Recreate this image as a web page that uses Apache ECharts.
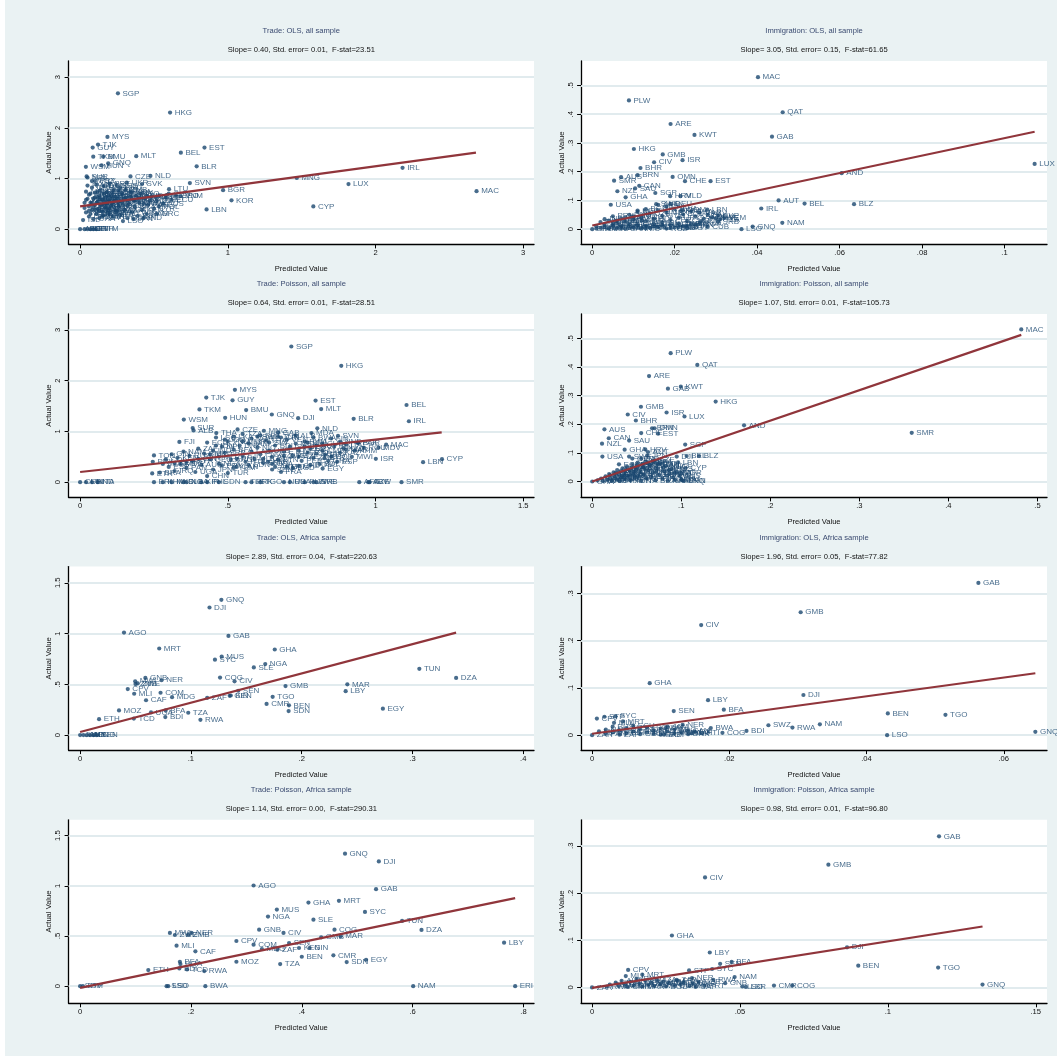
<!DOCTYPE html>
<html>
<head>
<meta charset="utf-8">
<script src="https://cdn.jsdelivr.net/npm/echarts@6/dist/echarts.min.js"></script>
<style>
  html, body { margin: 0; padding: 0; background: #fff; }
  #main { width: 1057px; height: 1056px; }
</style>
</head>
<body>
<div id="main"></div>
<script>
// labelled countries: [code, predicted, actual]
const tradeOlsAll = [
  ['SGP',0.256,2.68],['HKG',0.609,2.30],['MYS',0.185,1.82],['TJK',0.121,1.67],['GUY',0.085,1.61],
  ['BEL',0.682,1.51],['EST',0.842,1.61],['MLT',0.380,1.44],['TKM',0.089,1.43],['BMU',0.156,1.43],
  ['GNQ',0.190,1.30],['HUN',0.145,1.26],['BLR',0.789,1.24],['WSM',0.039,1.23],['IRL',2.183,1.21],
  ['CZE',0.341,1.04],['NLD',0.476,1.05],['SUR',0.044,1.04],['MNG',1.467,1.01],['SVN',0.743,0.91],
  ['LUX',1.817,0.89],['UKR',0.316,0.92],['SVK',0.419,0.89],['LTU',0.602,0.79],['BGR',0.968,0.77],
  ['MAC',2.684,0.75],['KOR',1.025,0.57],['CYP',1.579,0.45],['LBN',0.856,0.39],['POL',0.533,0.45],
  ['GRC',0.520,0.31],['MDA',0.450,0.66],['VNM',0.680,0.65]
];
// dense unreadable mass near the origin
const tradeOlsAllCloud = [
  [0.00,0.00],[0.03,0.00],[0.05,0.00],[0.07,0.00],[0.09,0.00],[0.11,0.00],
  [0.02,0.18],[0.03,0.52],[0.04,0.74],[0.04,0.33],[0.05,0.60],[0.05,0.86],[0.06,0.45],[0.06,0.25],[0.07,0.70],[0.07,0.52],
  [0.08,0.38],[0.08,0.82],[0.09,0.60],[0.09,0.20],[0.10,0.48],[0.10,0.72],[0.11,0.30],[0.11,0.88],[0.12,0.55],[0.12,0.40],
  [0.13,0.66],[0.13,0.22],[0.14,0.78],[0.14,0.47],[0.15,0.35],[0.15,0.58],[0.16,0.85],[0.16,0.27],[0.17,0.62],[0.17,0.44],
  [0.18,0.73],[0.19,0.32],[0.19,0.55],[0.20,0.90],[0.20,0.40],[0.21,0.65],[0.22,0.25],[0.22,0.50],[0.23,0.78],[0.24,0.36],
  [0.25,0.60],[0.26,0.45],[0.27,0.82],[0.27,0.28],[0.28,0.55],[0.29,0.68],[0.30,0.38],[0.31,0.62],[0.32,0.22],[0.33,0.50],
  [0.34,0.74],[0.35,0.33],[0.36,0.58],[0.37,0.45],[0.38,0.66],[0.39,0.26],[0.40,0.52],[0.41,0.70],[0.42,0.38],[0.44,0.60],
  [0.45,0.30],[0.46,0.48],[0.48,0.64],[0.50,0.40],[0.52,0.56],[0.54,0.66],[0.56,0.50],[0.58,0.62],[0.60,0.70],[0.62,0.58],
  [0.65,0.66],[0.43,0.22],[0.36,0.20],[0.29,0.16],[0.08,0.95],[0.05,1.02],[0.10,0.95],[0.25,0.86],
  [0.03,0.42],[0.04,0.58],[0.06,0.68],[0.07,0.30],[0.09,0.44],[0.10,0.62],[0.11,0.52],[0.12,0.74],[0.13,0.36],[0.14,0.60],
  [0.15,0.48],[0.16,0.70],[0.17,0.52],[0.18,0.40],[0.19,0.66],[0.20,0.58],[0.21,0.46],[0.22,0.72],[0.23,0.56],[0.24,0.64],
  [0.26,0.54],[0.28,0.70],[0.30,0.60],[0.32,0.46],[0.34,0.64],[0.37,0.56],[0.40,0.62],[0.43,0.50],[0.47,0.56],[0.35,0.72],
  [0.31,0.78],[0.26,0.76],[0.18,0.50],[0.12,0.62],[0.08,0.52],[0.06,0.36],[0.20,0.30],[0.25,0.36],[0.15,0.25],[0.10,0.38]
];
const tradeOlsAllFit = [[0,0.45],[2.68,1.51]];

const immigOlsAll = [
  ['MAC',0.0402,0.529],['PLW',0.0089,0.448],['QAT',0.0462,0.407],['ARE',0.0190,0.366],['KWT',0.0248,0.328],
  ['GAB',0.0436,0.322],['HKG',0.0101,0.279],['GMB',0.0171,0.260],['ISR',0.0219,0.240],['CIV',0.0150,0.233],
  ['BHR',0.0117,0.213],['AUS',0.0070,0.181],['BRN',0.0110,0.188],['OMN',0.0195,0.182],['SMR',0.0053,0.169],
  ['CHE',0.0225,0.167],['EST',0.0287,0.167],['CAN',0.0114,0.151],['SAU',0.0104,0.142],['NZL',0.0061,0.132],
  ['SGP',0.0153,0.126],['GHA',0.0081,0.111],['HRV',0.0189,0.115],['MLD',0.0214,0.115],['AND',0.0605,0.195],
  ['LUX',0.1073,0.227],['AUT',0.0452,0.100],['BEL',0.0515,0.089],['BLZ',0.0635,0.087],['USA',0.0045,0.085],
  ['IRL',0.0410,0.072],['SWE',0.0155,0.087],['DEU',0.0190,0.087],['FRA',0.0215,0.063],['NAM',0.0461,0.022],
  ['GNQ',0.0389,0.009],['LSO',0.0362,0.000],['SRB',0.0305,0.025],['JOR',0.0264,0.028],['FIN',0.0240,0.020],
  ['CYP',0.0305,0.048],['LBN',0.0279,0.068],['KGZ',0.0110,0.065]
];
const immigOlsAllCloud = [
  [0.000,0.000],[0.001,0.010],[0.002,0.025],[0.002,0.005],[0.003,0.035],[0.003,0.015],[0.004,0.002],[0.004,0.030],[0.005,0.012],[0.005,0.045],
  [0.006,0.022],[0.006,0.004],[0.007,0.038],[0.007,0.010],[0.008,0.028],[0.008,0.002],[0.009,0.050],[0.009,0.016],[0.010,0.006],[0.010,0.034],
  [0.011,0.020],[0.011,0.060],[0.012,0.003],[0.012,0.042],[0.013,0.012],[0.013,0.028],[0.014,0.055],[0.014,0.005],[0.015,0.036],[0.015,0.018],
  [0.016,0.066],[0.016,0.008],[0.017,0.046],[0.017,0.024],[0.018,0.002],[0.018,0.058],[0.019,0.014],[0.019,0.032],[0.020,0.070],[0.020,0.006],
  [0.021,0.040],[0.021,0.020],[0.022,0.010],[0.022,0.052],[0.023,0.028],[0.023,0.004],[0.024,0.062],[0.025,0.016],[0.025,0.045],[0.026,0.058],
  [0.027,0.036],[0.028,0.050],[0.029,0.042],[0.030,0.038],[0.031,0.034],[0.032,0.040],[0.016,0.085],[0.013,0.070],[0.018,0.078],[0.022,0.066],
  [0.001,0.002],[0.003,0.008],[0.005,0.020],[0.007,0.004],[0.009,0.008],[0.011,0.012],[0.013,0.004],[0.015,0.010],[0.017,0.014],[0.019,0.004],
  [0.021,0.008],[0.023,0.012],[0.026,0.020],[0.028,0.008],[0.012,0.030],[0.010,0.045],[0.008,0.040],[0.006,0.030]
];
const immigOlsAllFit = [[0,0.013],[0.1073,0.339]];

const tradePoisAll = [
  ['SGP',0.715,2.673],['HKG',0.884,2.293],['MYS',0.524,1.82],['TJK',0.427,1.667],['GUY',0.516,1.613],
  ['EST',0.797,1.607],['BEL',1.105,1.52],['TKM',0.404,1.433],['MLT',0.816,1.44],['BMU',0.562,1.42],
  ['GNQ',0.649,1.333],['DJI',0.738,1.26],['HUN',0.491,1.267],['WSM',0.351,1.233],['BLR',0.926,1.247],
  ['IRL',1.113,1.20],['SUR',0.381,1.067],['ALB',0.384,1.02],['CZE',0.533,1.04],['NLD',0.803,1.06],
  ['MNG',0.622,1.013],['MDA',0.783,0.967],['THA',0.461,0.967],['GAB',0.670,0.98],['SVN',0.873,0.913],
  ['FJI',0.336,0.793],['MAC',1.036,0.74],['MDV',1.010,0.68],['KWT',0.891,0.667],['BGR',0.941,0.767],
  ['LTU',0.770,0.78],['ISR',1.001,0.46],['CYP',1.225,0.453],['LBN',1.161,0.393],['SYR',0.827,0.473],
  ['EGY',0.821,0.267],['SMR',1.088,0],['TON',0.250,0.527],['PRY',0.246,0.40],['ETH',0.244,0.173],
  ['KEN',0.636,0.40],['SEN',0.650,0.25],['ERI',0.250,0],['SLB',0.350,0],['KIR',0.410,0],
  ['TLS',0.560,0],['PRK',0.580,0],['NRU',0.690,0],['PLW',0.760,0],['SRB',0.800,0],
  ['AFG',0.945,0],['ABW',0.975,0]
];
const tradePoisAllCloud = [
  [0,0],[0.02,0],[0.04,0],[0.06,0],[0.28,0],[0.31,0],[0.36,0],[0.43,0],[0.47,0],[0.61,0],[0.71,0],[0.79,0],[0.98,0],
  [0.27,0.19],[0.29,0.45],[0.30,0.30],[0.31,0.55],[0.32,0.22],[0.33,0.48],[0.34,0.36],
  [0.35,0.60],[0.36,0.28],[0.37,0.52],[0.38,0.42],[0.39,0.20],[0.40,0.66],[0.41,0.34],[0.42,0.56],[0.43,0.12],[0.43,0.78],
  [0.44,0.45],[0.45,0.62],[0.45,0.25],[0.46,0.88],[0.47,0.50],[0.48,0.70],[0.48,0.33],[0.49,0.58],[0.50,0.18],[0.50,0.80],
  [0.51,0.44],[0.52,0.64],[0.53,0.30],[0.54,0.72],[0.55,0.52],[0.56,0.40],[0.57,0.76],[0.58,0.60],[0.59,0.46],[0.60,0.68],
  [0.61,0.55],[0.62,0.38],[0.63,0.82],[0.64,0.62],[0.65,0.50],[0.66,0.72],[0.67,0.44],[0.68,0.88],[0.69,0.60],[0.70,0.30],
  [0.71,0.70],[0.72,0.52],[0.73,0.76],[0.74,0.62],[0.75,0.42],[0.76,0.80],[0.77,0.58],[0.78,0.66],[0.79,0.48],[0.80,0.72],
  [0.81,0.36],[0.82,0.62],[0.83,0.54],[0.84,0.42],[0.86,0.70],[0.88,0.58],[0.90,0.64],[0.92,0.50],[0.94,0.78],[0.96,0.68],
  [0.60,0.90],[0.55,0.95],[0.52,0.28],[0.66,0.30],[0.72,0.28],[0.74,0.32],[0.78,0.34],[0.68,0.20],
  [0.46,0.72],[0.49,0.84],[0.52,0.90],[0.55,0.80],[0.58,0.86],[0.61,0.92],[0.64,0.78],[0.67,0.90],[0.70,0.84],[0.73,0.92],
  [0.76,0.70],[0.79,0.88],[0.82,0.76],[0.85,0.86],[0.88,0.80],[0.90,0.74],[0.93,0.62],[0.44,0.55],[0.47,0.36],[0.53,0.46],
  [0.57,0.34],[0.62,0.46],[0.65,0.36],[0.69,0.52],[0.74,0.50],[0.80,0.56],[0.85,0.50],[0.87,0.40],[0.40,0.46],[0.36,0.40],
  [0.32,0.38],[0.28,0.36]
];
const tradePoisAllFit = [[0,0.20],[1.224,0.98]];

const immigPoisAll = [
  ['MAC',0.4818,0.531],['PLW',0.0881,0.448],['QAT',0.118,0.407],['ARE',0.0638,0.368],['KWT',0.0995,0.331],
  ['GAB',0.085,0.324],['HKG',0.1386,0.279],['GMB',0.0547,0.261],['ISR',0.0835,0.241],['CIV',0.0399,0.234],
  ['LUX',0.1036,0.227],['BHR',0.049,0.213],['AND',0.1705,0.196],['AUS',0.0137,0.182],['SMR',0.3588,0.170],
  ['BRN',0.0672,0.186],['OMN',0.070,0.186],['CHE',0.055,0.169],['EST',0.074,0.167],['CAN',0.0186,0.151],
  ['SAU',0.0414,0.143],['NZL',0.011,0.132],['SGP',0.1044,0.129],['GHA',0.0364,0.111],['HRV',0.0596,0.112],
  ['AUT',0.0626,0.103],['USA',0.0114,0.087],['SWE',0.0414,0.087],['DJI',0.0949,0.087],['BEL',0.106,0.089],
  ['BLZ',0.120,0.089],['LBN',0.0964,0.067],['CYP',0.105,0.047],['JOR',0.0998,0.030],['GNQ',0.101,0.004]
];
const immigPoisAllCloud = [
  [0.000,0.000],[0.006,0.004],[0.010,0.010],[0.012,0.002],[0.015,0.018],[0.017,0.006],[0.019,0.026],[0.020,0.012],[0.022,0.003],[0.024,0.032],
  [0.025,0.018],[0.027,0.008],[0.028,0.040],[0.030,0.024],[0.031,0.002],[0.033,0.014],[0.034,0.046],[0.036,0.030],[0.037,0.008],[0.039,0.052],
  [0.040,0.020],[0.042,0.038],[0.043,0.004],[0.045,0.060],[0.046,0.026],[0.048,0.012],[0.049,0.044],[0.051,0.066],[0.052,0.018],[0.054,0.034],
  [0.055,0.002],[0.057,0.050],[0.058,0.024],[0.060,0.070],[0.061,0.010],[0.063,0.040],[0.065,0.058],[0.066,0.016],[0.068,0.030],[0.070,0.074],
  [0.071,0.004],[0.073,0.046],[0.075,0.022],[0.077,0.062],[0.079,0.010],[0.081,0.036],[0.083,0.054],[0.085,0.002],[0.087,0.026],[0.089,0.044],
  [0.091,0.014],[0.093,0.006],[0.095,0.032],[0.098,0.020],[0.100,0.008],[0.103,0.002],[0.030,0.060],[0.045,0.080],[0.055,0.080],[0.062,0.090],
  [0.020,0.022],[0.026,0.028],[0.032,0.036],[0.038,0.042],[0.044,0.048],[0.050,0.056],[0.056,0.062],[0.062,0.064],[0.068,0.070],[0.074,0.060],
  [0.080,0.050],[0.086,0.040],[0.092,0.030],[0.035,0.020],[0.047,0.034],[0.059,0.044],[0.072,0.034],[0.084,0.020]
];
const immigPoisAllFit = [[0,0.0],[0.4818,0.512]];

const tradeOlsAfr = [
  ['GNQ',0.1275,1.333],['DJI',0.1168,1.257],['AGO',0.0396,1.01],['GAB',0.1339,0.977],['MRT',0.0714,0.853],
  ['GHA',0.1757,0.843],['MUS',0.1278,0.773],['SYC',0.1217,0.743],['NGA',0.1671,0.70],['SLE',0.1568,0.667],
  ['TUN',0.3062,0.653],['DZA',0.3394,0.563],['COG',0.1263,0.567],['CIV',0.1394,0.53],['GNB',0.0589,0.563],
  ['NER',0.0735,0.54],['MWI',0.0497,0.53],['ZMB',0.050,0.503],['ZWE',0.052,0.51],['GMB',0.1854,0.483],
  ['MAR',0.2412,0.50],['LBY',0.2397,0.433],['CPV',0.043,0.453],['MLI',0.0488,0.407],['COM',0.0726,0.417],
  ['MDG',0.083,0.373],['CAF',0.0595,0.343],['SEN',0.1427,0.437],['GIN',0.135,0.387],['KEN',0.136,0.39],
  ['ZAF',0.1147,0.367],['TGO',0.1738,0.377],['CMR',0.1683,0.307],['BEN',0.1885,0.293],['SDN',0.1882,0.237],
  ['EGY',0.2733,0.26],['MOZ',0.0351,0.243],['UGA',0.064,0.223],['BFA',0.0772,0.243],['TZA',0.0976,0.22],
  ['ETH',0.0171,0.157],['TCD',0.0485,0.163],['BDI',0.0769,0.177],['RWA',0.1086,0.15]
];
const tradeOlsAfrCloud = [[0,0],[0.003,0],[0.006,0],[0.009,0],[0.012,0],[0.015,0]];
const tradeOlsAfrFit = [[0,0.03],[0.3394,1.01]];

const immigOlsAfr = [
  ['GAB',0.0563,0.322],['GMB',0.0304,0.260],['CIV',0.0159,0.233],['GHA',0.0084,0.110],['DJI',0.0308,0.085],
  ['LBY',0.0169,0.074],['SEN',0.0119,0.051],['BFA',0.0192,0.054],['BEN',0.0431,0.046],['TGO',0.0515,0.043],
  ['SYC',0.0034,0.040],['STP',0.0018,0.039],['CPV',0.0007,0.035],['MRT',0.0045,0.029],['MLI',0.0032,0.026],
  ['SWZ',0.0257,0.021],['NAM',0.0332,0.023],['RWA',0.0292,0.016],['BWA',0.0173,0.015],['NER',0.0132,0.022],
  ['BDI',0.0225,0.009],['COG',0.0190,0.005],['GNQ',0.0646,0.007],['LSO',0.0430,0.000],['ZAF',0.0107,0.015],
  ['ZAR',0.0000,0.000],['EGY',0.0105,0.001],['CAF',0.0145,0.004]
];
const immigOlsAfrCloud = [
  [0.001,0.008],[0.002,0.012],[0.002,0.003],[0.003,0.018],[0.003,0.006],[0.004,0.010],[0.004,0.001],[0.005,0.015],[0.005,0.004],[0.006,0.008],
  [0.006,0.020],[0.007,0.002],[0.007,0.012],[0.008,0.006],[0.008,0.016],[0.009,0.003],[0.009,0.010],[0.010,0.014],[0.010,0.001],[0.011,0.008],
  [0.012,0.004],[0.012,0.012],[0.013,0.006],[0.014,0.010],[0.014,0.002],[0.015,0.007],[0.016,0.004],[0.011,0.018]
];
const immigOlsAfrFit = [[0,0.003],[0.0646,0.131]];

const tradePoisAfr = [
  ['GNQ',0.478,1.32],['DJI',0.539,1.243],['AGO',0.313,1.003],['GAB',0.534,0.967],['GHA',0.412,0.833],
  ['MRT',0.467,0.85],['MUS',0.355,0.763],['SYC',0.514,0.74],['NGA',0.339,0.693],['SLE',0.421,0.663],
  ['TUN',0.581,0.65],['DZA',0.616,0.56],['COG',0.459,0.563],['GNB',0.323,0.563],['CIV',0.367,0.53],
  ['MWI',0.162,0.53],['ZWE',0.171,0.51],['ZMB',0.195,0.51],['NER',0.201,0.53],['GMB',0.435,0.487],
  ['MAR',0.470,0.497],['CPV',0.282,0.45],['LBY',0.765,0.433],['COM',0.313,0.413],['MLI',0.174,0.403],
  ['SEN',0.377,0.43],['GIN',0.414,0.38],['KEN',0.395,0.38],['MDG',0.328,0.37],['ZAF',0.356,0.363],
  ['CAF',0.208,0.347],['BEN',0.400,0.293],['CMR',0.457,0.307],['SDN',0.481,0.24],['EGY',0.516,0.263],
  ['MOZ',0.282,0.243],['TZA',0.361,0.22],['BFA',0.180,0.243],['UGA',0.181,0.22],['ETH',0.123,0.16],
  ['TCD',0.193,0.167],['BDI',0.179,0.177],['RWA',0.224,0.15],['NAM',0.601,0],['ERI',0.785,0],
  ['BWA',0.226,0],['SSD',0.156,0],['LSO',0.159,0],['SOM',0.000,0],['STP',0.005,0]
];
const tradePoisAfrFit = [[0,-0.017],[0.785,0.877]];

const immigPoisAfr = [
  ['GAB',0.1173,0.320],['GMB',0.0799,0.260],['CIV',0.0382,0.233],['GHA',0.0270,0.110],['DJI',0.0862,0.085],
  ['LBY',0.0398,0.074],['BEN',0.0900,0.046],['TGO',0.1170,0.042],['SEN',0.0433,0.050],['BFA',0.0472,0.054],
  ['SYC',0.0406,0.039],['STP',0.0328,0.036],['CPV',0.0122,0.037],['MRT',0.0170,0.027],['MLI',0.0114,0.024],
  ['NAM',0.0482,0.022],['NER',0.0338,0.020],['ZAF',0.0286,0.016],['RWA',0.0410,0.016],['GNB',0.0450,0.009],
  ['LSO',0.0508,0.002],['LBR',0.0520,0.001],['CMR',0.0615,0.004],['COG',0.0677,0.004],['GNQ',0.1320,0.006],
  ['CAF',0.0350,0.001],['ZAR',0.0000,0.000]
];
const immigPoisAfrCloud = [
  [0.005,0.002],[0.006,0.006],[0.008,0.010],[0.009,0.003],[0.010,0.014],[0.011,0.006],[0.012,0.001],[0.013,0.012],[0.014,0.004],[0.015,0.018],
  [0.016,0.008],[0.017,0.002],[0.018,0.014],[0.019,0.006],[0.020,0.010],[0.021,0.003],[0.022,0.016],[0.023,0.007],[0.024,0.012],[0.025,0.002],
  [0.026,0.009],[0.028,0.004],[0.029,0.014],[0.030,0.006],[0.031,0.010],[0.033,0.003],[0.034,0.008],[0.036,0.012],[0.038,0.004]
];
const immigPoisAfrFit = [[0,-0.001],[0.132,0.129]];

// names for the points in the crowded masses (unreadable in the source)
const isoPool = ['AFG','ALB','ARG','ARM','AUS','AUT','AZE','BDI','BEN','BFA','BGD','BIH','BOL','BRA','BTN','BWA',
  'CAN','CHL','CHN','CMR','COL','CRI','CUB','DNK','DOM','ECU','EGY','ESP','ETH','FIN','FJI','FRA','GEO','GHA',
  'GIN','GTM','HND','HTI','IDN','IND','IRN','IRQ','ISL','ITA','JAM','JOR','JPN','KAZ','KEN','KGZ','KHM','LAO',
  'LKA','LSO','MAR','MDG','MEX','MKD','MLI','MMR','MOZ','MWI','NAM','NER','NGA','NIC','NOR','NPL','PAK','PAN',
  'PER','PHL','PNG','PRT','PRY','ROU','RUS','RWA','SDN','SEN','SLV','SRB','SWE','SYR','TCD','TGO','THA','TUN',
  'TUR','TZA','UGA','URY','USA','UZB','VEN','VNM','YEM','ZAF','ZMB','ZWE'];

// tick values per panel
const ticksTrade3 = [0, 1, 2, 3];
const ticksTradeP = [0, 0.5, 1, 1.5];
const ticksImmX1 = [0, 0.02, 0.04, 0.06, 0.08, 0.1];
const ticksImmY = [0, 0.1, 0.2, 0.3, 0.4, 0.5];
const ticksImmX2 = [0, 0.1, 0.2, 0.3, 0.4, 0.5];
const ticksAfrX1 = [0, 0.1, 0.2, 0.3, 0.4];
const ticksAfrX2 = [0, 0.02, 0.04, 0.06];
const ticksAfrX3 = [0, 0.2, 0.4, 0.6, 0.8];
const ticksAfrX4 = [0, 0.05, 0.1, 0.15];
const ticksAfrY = [0, 0.1, 0.2, 0.3];

const FONT = "'Liberation Sans', Arial, sans-serif";
const FS = 7.6;
const NAVY = '#1A476F';
const FITRED = '#90353B';
const BG = '#EAF2F3';

const colL = { left: 68.6, width: 465.4 };
const colR = { left: 581.1, width: 465.9 };
const rows = [
  { top: 60.9, t1: 27.0, t2: 46.3 },
  { top: 313.9, t1: 279.8, t2: 298.7 },
  { top: 566.6, t1: 534.1, t2: 552.7 },
  { top: 819.8, t1: 786.3, t2: 804.9 }
];
const PH = 183.5;

const panels = [
  { t: 'Trade: OLS, all sample', s: 'Slope= 0.40, Std. error= 0.01,  F-stat=23.51', col: colL, row: 0,
    pts: tradeOlsAll, cloud: tradeOlsAllCloud, fit: tradeOlsAllFit, xt: ticksTrade3, yt: ticksTrade3,
    xr: [-0.078, 3.073], yr: [-0.30, 3.32] },
  { t: 'Immigration: OLS, all sample', s: 'Slope= 3.05, Std. error= 0.15,  F-stat=61.65', col: colR, row: 0,
    pts: immigOlsAll, cloud: immigOlsAllCloud, fit: immigOlsAllFit, xt: ticksImmX1, yt: ticksImmY,
    xr: [-0.0027, 0.1103], yr: [-0.0529, 0.5856] },
  { t: 'Trade: Poisson, all sample', s: 'Slope= 0.64, Std. error= 0.01,  F-stat=28.51', col: colL, row: 1,
    pts: tradePoisAll, cloud: tradePoisAllCloud, fit: tradePoisAllFit, xt: ticksTradeP, yt: ticksTrade3,
    xr: [-0.039, 1.5365], yr: [-0.30, 3.315] },
  { t: 'Immigration: Poisson, all sample', s: 'Slope= 1.07, Std. error= 0.01,  F-stat=105.73', col: colR, row: 1,
    pts: immigPoisAll, cloud: immigPoisAllCloud, fit: immigPoisAllFit, xt: ticksImmX2, yt: ticksImmY,
    xr: [-0.0125, 0.5107], yr: [-0.0556, 0.5853] },
  { t: 'Trade: OLS, Africa sample', s: 'Slope= 2.89, Std. error= 0.04,  F-stat=220.63', col: colL, row: 2,
    pts: tradeOlsAfr, cloud: tradeOlsAfrCloud, fit: tradeOlsAfrFit, xt: ticksAfrX1, yt: ticksTradeP,
    xr: [-0.0104, 0.4097], yr: [-0.148, 1.66] },
  { t: 'Immigration: OLS, Africa sample', s: 'Slope= 1.96, Std. error= 0.05,  F-stat=77.82', col: colR, row: 2,
    pts: immigOlsAfr, cloud: immigOlsAfrCloud, fit: immigOlsAfrFit, xt: ticksAfrX2, yt: ticksAfrY,
    xr: [-0.0016, 0.0663], yr: [-0.0316, 0.3566] },
  { t: 'Trade: Poisson, Africa sample', s: 'Slope= 1.14, Std. error= 0.00,  F-stat=290.31', col: colL, row: 3,
    pts: tradePoisAfr, cloud: [], fit: tradePoisAfrFit, xt: ticksAfrX3, yt: ticksTradeP,
    xr: [-0.0208, 0.819], yr: [-0.171, 1.658] },
  { t: 'Immigration: Poisson, Africa sample', s: 'Slope= 0.98, Std. error= 0.01,  F-stat=96.80', col: colR, row: 3,
    pts: immigPoisAfr, cloud: immigPoisAfrCloud, fit: immigPoisAfrFit, xt: ticksAfrX4, yt: ticksAfrY,
    xr: [-0.0037, 0.1538], yr: [-0.0336, 0.355] }
];

// Stata style tick labels: .5 instead of 0.5
function fmt(v) {
  const s = String(+(+v).toFixed(4));
  return s.replace(/^0\./, '.');
}

const pointLabel = {
  show: true, position: 'right', distance: 2.5, formatter: '{b}',
  color: NAVY, fontSize: 8, fontFamily: FONT
};

const option = {
  animation: false,
  backgroundColor: BG,
  graphic: [{ type: 'rect', shape: { x: 0, y: 0, width: 5, height: 1056 }, style: { fill: '#fff' }, silent: true }],
  title: [], grid: [], xAxis: [], yAxis: [], series: []
};

panels.forEach((p, i) => {
  const row = rows[p.row];
  const cx = p.col.left + p.col.width / 2;
  option.title.push({
    text: p.t, left: cx, top: row.t1, textAlign: 'center', padding: 0,
    textStyle: { fontSize: FS, fontWeight: 'normal', color: '#3A4A70', fontFamily: FONT }
  });
  option.title.push({
    text: p.s, left: cx, top: row.t2, textAlign: 'center', padding: 0,
    textStyle: { fontSize: FS, fontWeight: 'normal', color: '#111', fontFamily: FONT }
  });
  option.grid.push({
    left: p.col.left, top: row.top, width: p.col.width, height: PH,
    show: true, backgroundColor: '#fff', borderWidth: 0
  });
  option.xAxis.push({
    type: 'value', gridIndex: i, min: p.xr[0], max: p.xr[1],
    name: 'Predicted Value', nameLocation: 'middle', nameGap: 20.5,
    nameTextStyle: { fontSize: FS, color: '#111', fontFamily: FONT },
    axisLine: { show: true, onZero: false, lineStyle: { color: '#000', width: 1.3 } },
    axisTick: { show: true, length: 4, customValues: p.xt, lineStyle: { color: '#000', width: 1 } },
    axisLabel: { customValues: p.xt, formatter: fmt, fontSize: FS, color: '#111', fontFamily: FONT, margin: 5 },
    splitLine: { show: false }
  });
  option.yAxis.push({
    type: 'value', gridIndex: i, min: p.yr[0], max: p.yr[1],
    name: 'Actual Value', nameLocation: 'middle', nameGap: 15,
    nameTextStyle: { fontSize: FS, color: '#111', fontFamily: FONT },
    axisLine: { show: true, onZero: false, lineStyle: { color: '#000', width: 1.3 } },
    axisTick: { show: true, length: 4, customValues: p.yt, lineStyle: { color: '#000', width: 1 } },
    axisLabel: { customValues: p.yt, formatter: fmt, rotate: 90, fontSize: FS, color: '#111', fontFamily: FONT, margin: 6.5 },
    splitLine: { show: false }
  });
  // horizontal grid lines at the y ticks, kept underneath the marks and labels
  option.series.push({
    type: 'line', xAxisIndex: i, yAxisIndex: i, data: [], z: 1, silent: true,
    markLine: {
      z: 1, silent: true, symbol: ['none', 'none'], label: { show: false },
      lineStyle: { color: '#E1EBEE', width: 2.2, type: 'solid' },
      emphasis: { disabled: true },
      data: p.yt.map(v => ({ yAxis: v }))
    }
  });
  option.series.push({
    type: 'scatter', xAxisIndex: i, yAxisIndex: i, z: 3,
    symbol: 'circle', symbolSize: 4.2, itemStyle: { color: NAVY },
    label: pointLabel,
    data: p.cloud.map((d, k) => ({ name: isoPool[(k * 7 + i * 11) % isoPool.length], value: d }))
  });
  option.series.push({
    type: 'scatter', xAxisIndex: i, yAxisIndex: i, z: 3,
    symbol: 'circle', symbolSize: 4.2, itemStyle: { color: NAVY },
    label: pointLabel,
    data: p.pts.map(d => ({ name: d[0], value: [d[1], d[2]] }))
  });
  option.series.push({
    type: 'line', xAxisIndex: i, yAxisIndex: i, z: 5,
    data: p.fit, symbol: 'none', silent: true,
    lineStyle: { color: FITRED, width: 2.2 }
  });
});

const chart = echarts.init(document.getElementById('main'));
chart.setOption(option);
</script>
</body>
</html>
